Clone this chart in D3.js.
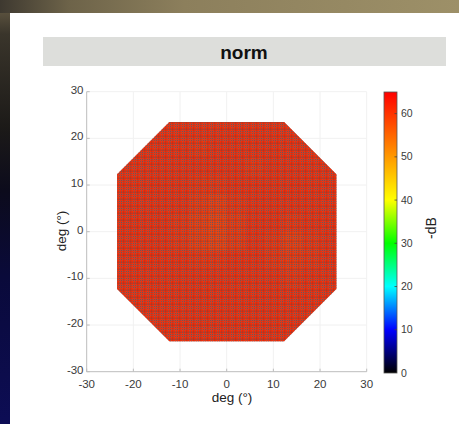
<!DOCTYPE html>
<html>
<head>
<meta charset="utf-8">
<script src="https://cdn.jsdelivr.net/npm/d3@7"></script>
<style>
  html, body { margin: 0; padding: 0; background: #111; }
  svg { display: block; }
  text { font-family: "Liberation Sans", Arial, Helvetica, sans-serif; }
</style>
</head>
<body>
<svg id="chart" width="459" height="424"></svg>
<script>
// ---- data ----
const titleText = "norm";
const axisTicks = [-30, -20, -10, 0, 10, 20, 30];
const colorbarTicks = [0, 10, 20, 30, 40, 50, 60];
const colorbarDomain = [0, 65];
// colour map: black -> blue -> cyan -> green -> yellow -> red
const colorStopValues = [0, 10, 20, 30, 40, 65];
const colorStopColors = ["#000000", "#0000ff", "#00ffff", "#00ff00", "#ffff00", "#ff0000"];
// sensitivity field (-dB), 4-degree blocks; columns x = -22..22, rows y = 22..-22
const blockCentersX = [-22, -18, -14, -10, -6, -2, 2, 6, 10, 14, 18, 22];
const blockCentersY = [22, 18, 14, 10, 6, 2, -2, -6, -10, -14, -18, -22];
const fieldValues = [
  [61, 61, 61, 61, 61, 61, 61, 61, 61, 61, 61, 61],
  [61, 61, 61, 61, 60.5, 61, 61, 61, 61, 61, 61, 61],
  [61, 61, 61, 61, 61, 61, 61, 60.5, 61, 61, 61, 61],
  [61, 61, 61, 61, 60.5, 60.5, 61, 61, 61, 61, 61, 61],
  [61, 61, 61, 61, 60, 59.5, 60.5, 61, 61, 61, 61, 61],
  [61, 61, 61, 60.5, 59.5, 59, 60, 61, 61, 60.5, 61, 61],
  [61, 61, 61, 60.5, 59.5, 59, 60, 61, 60.5, 59.5, 60.5, 61],
  [61, 61, 61, 61, 60.5, 60.5, 61, 61, 60.5, 60, 60.5, 61],
  [61, 61, 61, 61, 61, 61, 61, 61, 61, 60.5, 61, 61],
  [61, 61, 61, 61, 61, 61, 61, 61, 61, 61, 61, 61],
  [61, 61, 61, 61, 61, 61, 61, 61, 61, 61, 61, 61],
  [61, 61, 61, 61, 61, 61, 61, 61, 61, 61, 61, 61]
];
// octagonal test region (deg): outer half-width and corner cut
const fieldHalfWidth = 23.5;
const fieldCorner = 12.3;
const cellSize = 0.5; // deg

// ---- layout ----
const W = 459, H = 424;
const svg = d3.select("#chart");
const defs = svg.append("defs");

// backdrop
const sideGrad = defs.append("linearGradient").attr("id", "sideGrad")
  .attr("x1", 0).attr("y1", 0).attr("x2", 0).attr("y2", 1);
[[0, "#6b6048"], [0.08, "#3a352b"], [0.3, "#1c1a18"], [0.45, "#0c0b1c"], [0.65, "#0a0a3a"], [1, "#0d0d55"]]
  .forEach(([o, c]) => sideGrad.append("stop").attr("offset", o).attr("stop-color", c));
const topGrad = defs.append("linearGradient").attr("id", "topGrad")
  .attr("x1", 0).attr("y1", 0).attr("x2", 1).attr("y2", 0);
[[0, "#3e3930"], [0.15, "#6d6349"], [0.4, "#8c7f5c"], [1, "#9d9068"]]
  .forEach(([o, c]) => topGrad.append("stop").attr("offset", o).attr("stop-color", c));

svg.append("rect").attr("width", W).attr("height", H).attr("fill", "url(#sideGrad)");
svg.append("rect").attr("width", W).attr("height", 13).attr("fill", "url(#topGrad)");
svg.append("rect").attr("x", 10).attr("y", 13).attr("width", W - 10).attr("height", H - 13).attr("fill", "#ffffff");

// title bar
svg.append("rect").attr("x", 43).attr("y", 37).attr("width", 403).attr("height", 29)
  .attr("fill", "#dddedb");
svg.append("text").attr("x", 244).attr("y", 58.5).attr("text-anchor", "middle")
  .attr("font-size", 19).attr("font-weight", "bold").attr("fill", "#111")
  .text(titleText);

// scales
const x = d3.scaleLinear().domain([-30, 30]).range([86.7, 366.7]);
const y = d3.scaleLinear().domain([-30, 30]).range([371.7, 91.7]);
const cScale = d3.scaleLinear().domain(colorStopValues).range(colorStopColors).clamp(true);
const cbY = d3.scaleLinear().domain(colorbarDomain).range([373, 92]);

// faint grid
const grid = svg.append("g").attr("stroke", "#f1f1f1").attr("stroke-width", 1);
axisTicks.slice(1).forEach(t => {
  grid.append("line").attr("x1", x(t)).attr("x2", x(t)).attr("y1", y(30)).attr("y2", y(-30));
  grid.append("line").attr("y1", y(t)).attr("y2", y(t)).attr("x1", x(-30)).attr("x2", x(30));
});

// octagon clip
const octagon = [
  [-fieldCorner, fieldHalfWidth], [fieldCorner, fieldHalfWidth],
  [fieldHalfWidth, fieldCorner], [fieldHalfWidth, -fieldCorner],
  [fieldCorner, -fieldHalfWidth], [-fieldCorner, -fieldHalfWidth],
  [-fieldHalfWidth, -fieldCorner], [-fieldHalfWidth, fieldCorner]
];
defs.append("clipPath").attr("id", "octClip").append("polygon")
  .attr("points", octagon.map(p => [x(p[0]), y(p[1])].join(",")).join(" "));

// cells: each small cell takes the value of its 4-degree block
const blockOf = (v, centers) => d3.minIndex(centers, c => Math.abs(c - v));
const cells = [];
const lo = -Math.ceil(fieldHalfWidth), hi = Math.ceil(fieldHalfWidth);
for (let cx = lo; cx < hi; cx += cellSize) {
  for (let cy = lo; cy < hi; cy += cellSize) {
    const mx = cx + cellSize / 2, my = cy + cellSize / 2;
    const v = fieldValues[blockOf(my, blockCentersY)][blockOf(mx, blockCentersX)];
    cells.push({ x0: cx, y0: cy, v });
  }
}
svg.append("g").attr("clip-path", "url(#octClip)")
  .selectAll("rect").data(cells).join("rect")
  .attr("x", d => x(d.x0))
  .attr("y", d => y(d.y0 + cellSize))
  .attr("width", x(cellSize) - x(0))
  .attr("height", y(0) - y(cellSize))
  .attr("fill", d => cScale(d.v))
  .attr("stroke", "rgba(105,70,70,0.7)")
  .attr("stroke-width", 0.5);

// axes
const axisG = svg.append("g").attr("stroke", "#bdbdbd").attr("stroke-width", 1).attr("fill", "none");
axisG.append("line").attr("x1", x(-30)).attr("x2", x(-30)).attr("y1", y(30)).attr("y2", y(-30));
axisG.append("line").attr("x1", x(-30)).attr("x2", x(30)).attr("y1", y(-30)).attr("y2", y(-30));
axisTicks.forEach(t => {
  axisG.append("line").attr("x1", x(-30)).attr("x2", x(-30) + 3).attr("y1", y(t)).attr("y2", y(t));
  axisG.append("line").attr("x1", x(t)).attr("x2", x(t)).attr("y1", y(-30)).attr("y2", y(-30) - 3);
});

const tickFont = 11.5, tickColor = "#3a3a3a";
svg.append("g").selectAll("text").data(axisTicks).join("text")
  .attr("x", 83.5).attr("y", d => y(d) + 2)
  .attr("text-anchor", "end").attr("font-size", tickFont).attr("fill", tickColor)
  .text(d => d);
svg.append("g").selectAll("text").data(axisTicks).join("text")
  .attr("x", d => x(d)).attr("y", 388)
  .attr("text-anchor", "middle").attr("font-size", tickFont).attr("fill", tickColor)
  .text(d => d);

svg.append("text").attr("x", 232).attr("y", 401.5).attr("text-anchor", "middle")
  .attr("font-size", 13.5).attr("fill", "#222").text("deg (°)");
svg.append("text").attr("transform", "translate(66,231) rotate(-90)")
  .attr("text-anchor", "middle").attr("font-size", 13.5).attr("fill", "#222").text("deg (°)");

// colour bar
const cbGrad = defs.append("linearGradient").attr("id", "cbGrad")
  .attr("x1", 0).attr("y1", 1).attr("x2", 0).attr("y2", 0);
colorStopValues.forEach((v, i) => cbGrad.append("stop")
  .attr("offset", (v - colorbarDomain[0]) / (colorbarDomain[1] - colorbarDomain[0]))
  .attr("stop-color", colorStopColors[i]));
const cbX = 384, cbW = 13;
svg.append("rect").attr("x", cbX).attr("y", cbY(colorbarDomain[1])).attr("width", cbW)
  .attr("height", cbY(colorbarDomain[0]) - cbY(colorbarDomain[1]))
  .attr("fill", "url(#cbGrad)").attr("stroke", "#555").attr("stroke-width", 0.8);
svg.append("g").attr("stroke", "#444").attr("stroke-width", 0.8)
  .selectAll("line").data(colorbarTicks.slice(1)).join("line")
  .attr("x1", cbX + cbW - 2.5).attr("x2", cbX + cbW).attr("y1", d => cbY(d)).attr("y2", d => cbY(d));
svg.append("g").selectAll("text").data(colorbarTicks).join("text")
  .attr("x", 401).attr("y", d => cbY(d) + 3.5)
  .attr("font-size", 10.5).attr("fill", tickColor).text(d => d);
svg.append("text").attr("transform", "translate(436,228) rotate(-90)")
  .attr("text-anchor", "middle").attr("font-size", 14).attr("fill", "#222").text("-dB");
</script>
</body>
</html>
